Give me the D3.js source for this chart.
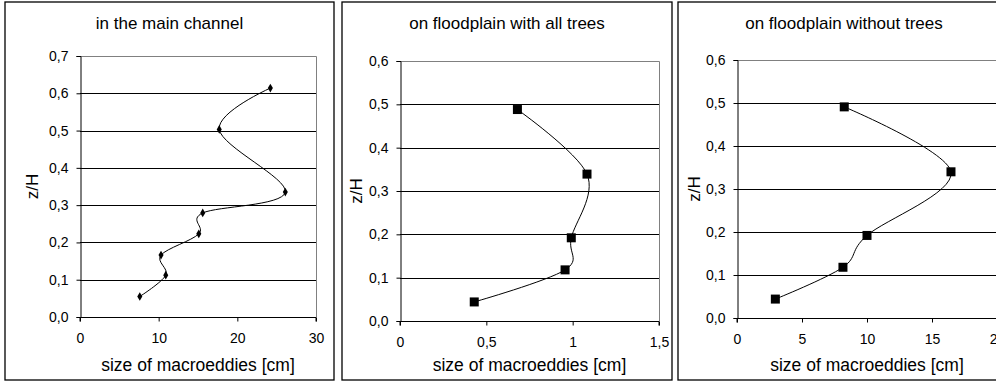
<!DOCTYPE html>
<html><head><meta charset="utf-8">
<script src="https://cdn.jsdelivr.net/npm/d3@7/dist/d3.min.js"></script>
<style>body{margin:0;background:#fff}svg{display:block;font-family:"Liberation Sans",Arial,sans-serif}</style>
</head><body><svg id="c" width="996" height="383"></svg>
<script>
// ---- data ----
const titles = ["in the main channel", "on floodplain with all trees", "on floodplain without trees"];
const xTitle = "size of macroeddies [cm]";
const yTitle = "z/H";
const mainX = [7.6, 10.9, 10.3, 15.1, 15.6, 26.1, 17.7, 24.2];
const mainY = [0.055, 0.112, 0.166, 0.223, 0.279, 0.335, 0.503, 0.614];
const treesX = [0.43, 0.956, 0.992, 1.083, 0.68];
const treesY = [0.044, 0.118, 0.192, 0.339, 0.488];
const noTreesX = [2.95, 8.15, 10.0, 16.46, 8.25];
const noTreesY = [0.044, 0.118, 0.192, 0.340, 0.491];
const xTicks1 = [0, 10, 20, 30];
const xTicks2 = [0, 0.5, 1, 1.5];
const xTicks3 = [0, 5, 10, 15, 20];
const yTicks1 = [0, 0.1, 0.2, 0.3, 0.4, 0.5, 0.6, 0.7];
const yTicks23 = [0, 0.1, 0.2, 0.3, 0.4, 0.5, 0.6];

// ---- layout ----
const panels = [
  {frame:[5,2,334,380], px:[80,316], py:[317,56], xd:[0,30], yd:[0,0.7], xt:xTicks1, yt:yTicks1, xs:mainX, ys:mainY, marker:"diamond", ylabX:32},
  {frame:[342,2,672,380], px:[400,659], py:[321,61], xd:[0,1.5], yd:[0,0.6], xt:xTicks2, yt:yTicks23, xs:treesX, ys:treesY, marker:"square", ylabX:356},
  {frame:[678,2,1010,380], px:[737,997], py:[318,60], xd:[0,20], yd:[0,0.6], xt:xTicks3, yt:yTicks23, xs:noTreesX, ys:noTreesY, marker:"square", ylabX:694}
];

const svg = d3.select("#c");
const comma = d => String(d).replace(".", ",");
const fmtY = d => d3.format(".1f")(d).replace(".", ",");

panels.forEach((p, i) => {
  const g = svg.append("g");
  const [fx0, fy0, fx1, fy1] = p.frame;
  g.append("rect").attr("x", fx0).attr("y", fy0).attr("width", fx1 - fx0).attr("height", fy1 - fy0)
    .attr("fill", "#fff").attr("stroke", "#000").attr("stroke-width", 1.3);
  const x = d3.scaleLinear().domain(p.xd).range(p.px);
  const y = d3.scaleLinear().domain(p.yd).range(p.py);
  // gridlines
  g.append("g").selectAll("line").data(p.yt.filter(v => v > 0 && v < p.yd[1] - 1e-9)).join("line")
    .attr("x1", p.px[0]).attr("x2", p.px[1]).attr("y1", d => Math.round(y(d)) + 0.5).attr("y2", d => Math.round(y(d)) + 0.5)
    .attr("stroke", "#000").attr("stroke-width", 1);
  // plot area border (top/right)
  g.append("path").attr("d", `M${p.px[0]},${p.py[1]+0.5}H${p.px[1]+0.5}V${p.py[0]}`)
    .attr("fill", "none").attr("stroke", "#808080").attr("stroke-width", 1);
  // axes
  const xa = g.append("g").attr("transform", `translate(0,${Math.round(y(0)) + 0.5})`)
    .call(d3.axisBottom(x).tickValues(p.xt).tickFormat(comma).tickSize(4).tickPadding(12));
  const ya = g.append("g").attr("transform", `translate(${Math.round(x(0)) + 0.5},0)`)
    .call(d3.axisLeft(y).tickValues(p.yt).tickFormat(fmtY).tickSize(4).tickPadding(8));
  [xa, ya].forEach(a => {
    a.select(".domain").attr("stroke", "#000");
    a.selectAll(".tick line").attr("stroke", "#000");
    a.selectAll("text").attr("font-size", 14).attr("fill", "#000").attr("font-family", '"Liberation Sans",Arial,sans-serif');
  });
  xa.select(".domain").attr("d", `M${p.px[0]},4V0H${p.px[1]}V4`);
  // titles
  g.append("text").attr("x", (fx0 + fx1) / 2).attr("y", 29).attr("text-anchor", "middle")
    .attr("font-size", 17).text(titles[i]);
  g.append("text").attr("x", (p.px[0] + p.px[1]) / 2).attr("y", 371).attr("text-anchor", "middle")
    .attr("font-size", 17.5).text(xTitle);
  g.append("text").attr("transform", `translate(${p.ylabX},${(p.py[0] + p.py[1]) / 2}) rotate(-90)`)
    .attr("text-anchor", "middle").attr("dy", "0.35em").attr("font-size", 17).text(yTitle);
  // smooth line
  const pts = p.xs.map((v, k) => [x(v), y(p.ys[k])]);
  g.append("path").attr("d", d3.line().curve(d3.curveCardinal.tension(0))(pts))
    .attr("fill", "none").attr("stroke", "#000").attr("stroke-width", 1);
  // markers
  if (p.marker === "square") {
    g.append("g").selectAll("rect").data(pts).join("rect")
      .attr("x", d => d[0] - 4.5).attr("y", d => d[1] - 4.5).attr("width", 9).attr("height", 9).attr("fill", "#000");
  } else {
    g.append("g").selectAll("path").data(pts).join("path")
      .attr("d", d3.symbol(d3.symbolDiamond, 22)).attr("transform", d => `translate(${d[0]},${d[1]})`).attr("fill", "#000");
  }
});
</script></body></html>
